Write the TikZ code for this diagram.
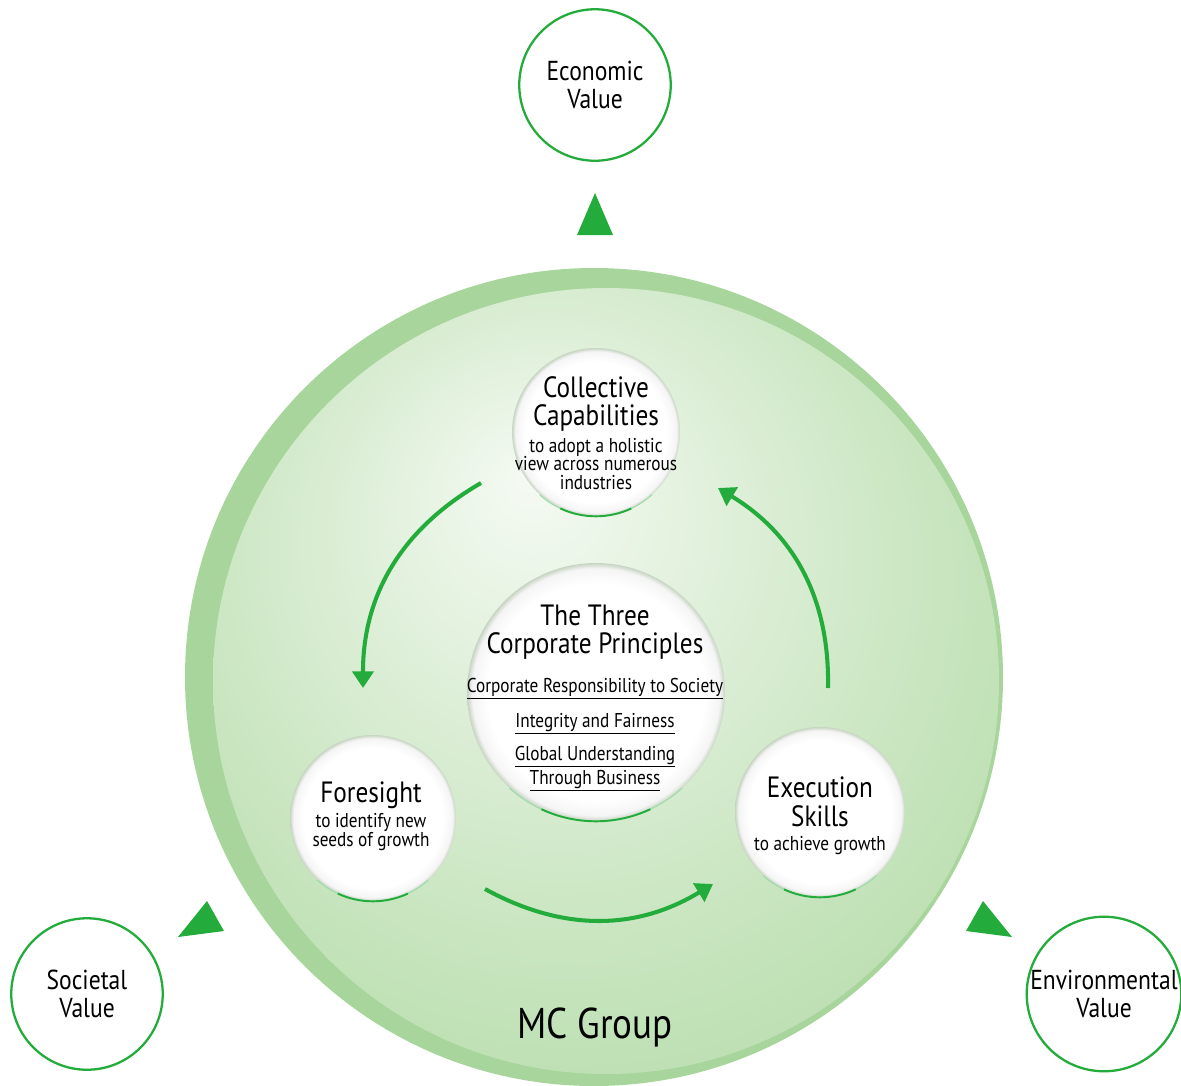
\documentclass[tikz,border=0pt]{standalone}
\usepackage{fontspec}
\setmainfont{PT Sans}[FakeStretch=0.86]
\usetikzlibrary{arrows.meta}

\definecolor{mcgreen}{HTML}{23AC3B}
\definecolor{mcrim}{HTML}{A7D59B}
\definecolor{mclight}{HTML}{F5FAF3}
\definecolor{mcsoft}{HTML}{E2F1DD}
\definecolor{mcmid}{HTML}{C8E5BF}
\definecolor{mcdeep}{HTML}{B2DAA6}

\pgfdeclareradialshading{mcglow}{\pgfpoint{-5bp}{13bp}}{%
  color(0bp)=(mclight); color(10bp)=(mcsoft); color(24bp)=(mcmid);
  color(38bp)=(mcdeep); color(50bp)=(mcdeep)}
\pgfdeclareradialshading{bubbleglow}{\pgfpoint{0bp}{0bp}}{%
  color(0bp)=(white); color(21bp)=(white); color(24bp)=(black!4);
  color(25bp)=(black!12!mcsoft); color(50bp)=(black!12!mcsoft)}

\newcommand\valuefont{\fontsize{15.6}{16}\selectfont}
\newcommand\headfont{\fontsize{16.7}{17}\selectfont}
\newcommand\notefont{\fontsize{11.4}{11.6}\selectfont}

\tikzset{
  value/.style={circle, draw=mcgreen, line width=1.3pt, fill=white,
    minimum size=3.03cm, inner sep=0pt, align=center, font=\valuefont},
  bubble/.style={circle, shading=bubbleglow, inner sep=0pt},
  head/.style={anchor=base, font=\headfont, inner sep=0pt},
  note/.style={anchor=base, font=\notefont, inner sep=0pt},
  flow/.style={->, line width=2.3pt, draw=mcgreen},
  pointer/.style={fill=mcgreen},
  gleam/.style={draw=mcgreen, line width=1.1pt}
}

\begin{document}
\begin{tikzpicture}[x=0.02cm, y=-0.02cm, >={Triangle[length=9.5pt,width=12pt]}]
\useasboundingbox (0,0) rectangle (1181,1086);

% the group disc
\fill[mcrim] (594,677) circle[radius=409];
\shade[shading=mcglow] (606,681) circle[radius=393];
\node[anchor=base, font=\fontsize{24.5}{25}\selectfont, inner sep=0pt] (group) at (595,1038) {MC Group};

% the three values
\node[value] (economic) at (595,85) {Economic\\Value};
\node[value] (societal) at (87,994) {Societal\\Value};
\node[value] (environmental) at (1104,994) {Environmental\\Value};

\fill[pointer] (595,193) -- (577,235) -- (613,235) -- cycle;
\fill[pointer] (207,901) -- (178,937) -- (224,931) -- cycle;
\fill[pointer] (983,901) -- (966,931) -- (1012,937) -- cycle;

% bubbles
\node[bubble, minimum size=3.36cm] (collective) at (596,432) {};
\node[bubble, minimum size=5.16cm] (principles) at (596,692) {};
\node[bubble, minimum size=3.32cm] (foresight) at (373,818) {};
\node[bubble, minimum size=3.4cm] (execution) at (820,812) {};

\foreach \b/\r in {collective/84, principles/129, foresight/83, execution/85} {
  \draw[gleam, draw=mcgreen!45, line width=0.6pt] (\b.228) arc[start angle=132, end angle=48, radius=\r];
  \draw[gleam] (\b.245) arc[start angle=115, end angle=65, radius=\r];
}

% texts
\foreach \l/\y [count=\i] in {Collective/397, Capabilities/425}
  \node[head] (collective-head-\i) at (596,\y) {\l};
\foreach \l/\y [count=\i] in {to adopt a holistic/452, view across numerous/470, industries/489}
  \node[note] (collective-note-\i) at (596,\y) {\l};

\foreach \l/\y [count=\i] in {The Three/625, Corporate Principles/653}
  \node[head] (principles-head-\i) at (595,\y) {\l};
\foreach \l/\y [count=\i] in {Corporate Responsibility to Society/692, Integrity and Fairness/727,
    Global Understanding/760, Through Business/784}
  \node[note] (principles-note-\i) at (595,\y) {\underline{\l}};

\node[head] (foresight-head) at (371,802) {Foresight};
\foreach \l/\y [count=\i] in {to identify new/827, seeds of growth/846}
  \node[note] (foresight-note-\i) at (371,\y) {\l};

\foreach \l/\y [count=\i] in {Execution/797, Skills/826}
  \node[head] (execution-head-\i) at (820,\y) {\l};
\node[note] (execution-note) at (820,850) {to achieve growth};

% the cycle
\coordinate (flow-1-start) at (481,483);
\coordinate (flow-1-end) at (363,688);
\coordinate (flow-2-start) at (485,889);
\coordinate (flow-2-end) at (713,884);
\coordinate (flow-3-start) at (828,688);
\coordinate (flow-3-end) at (718,488);

\foreach \i in {1,2,3}
  \draw[flow] (flow-\i-start) to[bend right=30] (flow-\i-end);

\end{tikzpicture}
\end{document}
